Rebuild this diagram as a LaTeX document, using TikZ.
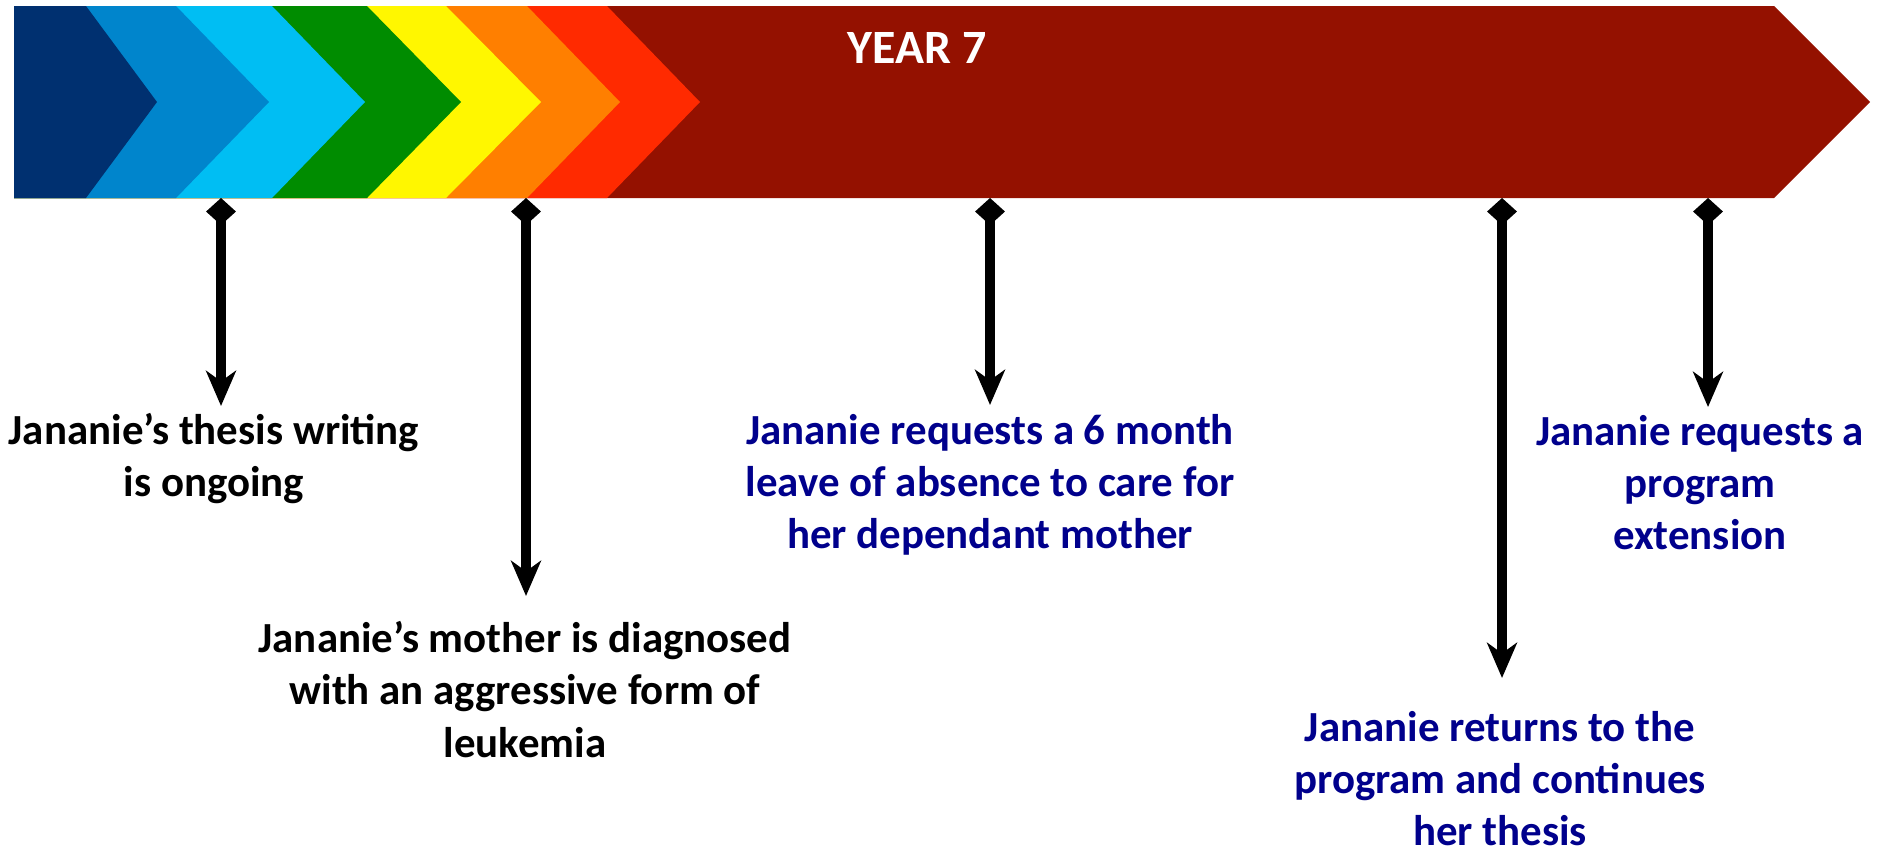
\documentclass[tikz,border=0pt]{standalone}
\usepackage{fontspec}
\setmainfont{Carlito}
\usepackage{tikz}
\usetikzlibrary{positioning, arrows.meta}
\usepackage{xcolor}
\definecolor{yrnavy}{HTML}{003070}
\definecolor{yrblue}{HTML}{0085CC}
\definecolor{yrcyan}{HTML}{00BEF3}
\definecolor{yrgreen}{HTML}{008C00}
\definecolor{yryellow}{HTML}{FFF700}
\definecolor{yrorange}{HTML}{FF7F00}
\definecolor{yrred}{HTML}{FF2A00}
\definecolor{yrmaroon}{HTML}{941100}
\definecolor{yrtext}{HTML}{00008C}

\tikzset{
  milestone/.style={line width=1mm, {Diamond[length=7.7pt,width=8.5pt]}-{Stealth[length=10pt,width=8.5pt,inset=3pt]}},
  eventtext/.style={anchor=north, inner sep=0pt, align=center, font=\fontsize{12.2pt}{14.8pt}\selectfont\bfseries},
}

\begin{document}
\begin{tikzpicture}[x=0.01cm, y=-0.01cm]
\useasboundingbox (0,0) rectangle (1877,848);
% chevron band, drawn back to front
\fill[yrmaroon] (14,6) -- (1774,6) -- (1870,102) -- (1774,198) -- (14,198) -- cycle;
\fill[yrred] (14,6) -- (607,6) -- (700,102) -- (607,198) -- (14,198) -- cycle;
\fill[yrorange] (14,6) -- (527,6) -- (620,102) -- (527,198) -- (14,198) -- cycle;
\fill[yryellow] (14,6) -- (446,6) -- (541,102) -- (446,198) -- (14,198) -- cycle;
\fill[yrgreen] (14,6) -- (367,6) -- (461,102) -- (367,198) -- (14,198) -- cycle;
\fill[yrcyan] (14,6) -- (272,6) -- (365,102) -- (272,198) -- (14,198) -- cycle;
\fill[yrblue] (14,6) -- (176,6) -- (269,102) -- (176,198) -- (14,198) -- cycle;
\fill[yrnavy] (14,6) -- (86,6) -- (157,102) -- (86,198) -- (14,198) -- cycle;
\node[anchor=base, text=white, font=\fontsize{13.6pt}{16pt}\selectfont\bfseries] (year) at (917,63) {YEAR 7};

% events
\node[eventtext] (writing) at (214,413) {Jananie’s thesis writing\\is ongoing};
\node[eventtext] (diagnosis) at (525,621) {Jananie’s mother is diagnosed\\with an aggressive form of\\leukemia};
\node[eventtext, text=yrtext] (leave) at (990,414) {Jananie requests a 6 month\\leave of absence to care for\\her dependant mother};
\node[eventtext, text=yrtext] (return) at (1500,711) {Jananie returns to the\\program and continues\\her thesis};
\node[eventtext, text=yrtext] (extension) at (1700,415) {Jananie requests a\\program\\extension};

% milestone connectors
\coordinate (m1) at (221,198);
\coordinate (m2) at (526,198);
\coordinate (m3) at (990,198);
\coordinate (m4) at (1502,198);
\coordinate (m5) at (1708,198);
\draw[milestone, shorten >=0.7mm] (m1) -- (m1 |- writing.north);
\draw[milestone, shorten >=2.5mm] (m2) -- (m2 |- diagnosis.north);
\draw[milestone, shorten >=0.9mm] (m3) -- (m3 |- leave.north);
\draw[milestone, shorten >=3.3mm] (m4) -- (m4 |- return.north);
\draw[milestone, shorten >=0.8mm] (m5) -- (m5 |- extension.north);
\end{tikzpicture}
\end{document}
